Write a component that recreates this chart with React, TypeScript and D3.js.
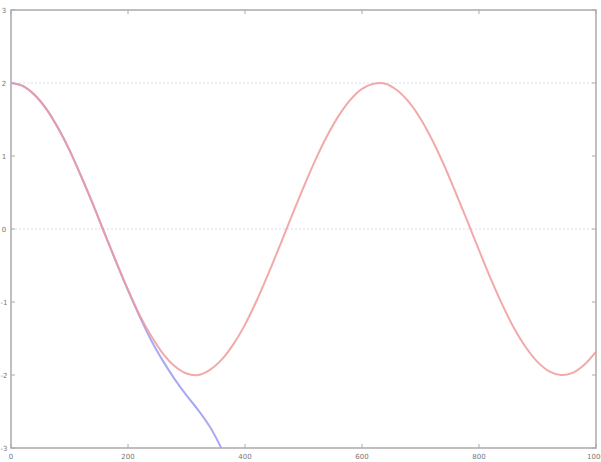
import React from "react";
import * as d3 from "d3";

const xValues = [0,20,40,60,80,100,120,140,160,180,200,220,240,260,280,300,320,340,360,380,400,420,440,460,480,500,520,540,560,580,600,620,640,660,680,700,720,740,760,780,800,820,840,860,880,900,920,940,960,980,1000];
const redValues = [2.00,1.96,1.84,1.65,1.39,1.08,0.72,0.34,-0.06,-0.45,-0.83,-1.18,-1.47,-1.71,-1.88,-1.98,-2.00,-1.93,-1.79,-1.58,-1.31,-0.98,-0.61,-0.22,0.18,0.57,0.94,1.27,1.55,1.77,1.92,1.99,1.99,1.90,1.74,1.51,1.22,0.88,0.50,0.11,-0.29,-0.68,-1.04,-1.36,-1.62,-1.82,-1.95,-2.00,-1.97,-1.86,-1.68];
const blueX = [0,20,40,60,80,100,120,140,160,180,200,220,240,260,280,300,320,340,360];
const blueValues = [2.00,1.96,1.84,1.65,1.39,1.08,0.72,0.34,-0.06,-0.46,-0.84,-1.20,-1.53,-1.81,-2.06,-2.28,-2.48,-2.71,-3.01];
const xTicks = [0,200,400,600,800,1000];
const yTicks = [-3,-2,-1,0,1,2,3];
const gridY = [0,2];

const W = 601, H = 462;
const M = { left: 11, right: 596, top: 10, bottom: 448 };

export default function App() {
  const x = d3.scaleLinear().domain([0, 1000]).range([M.left, M.right]);
  const y = d3.scaleLinear().domain([-3, 3]).range([M.bottom, M.top]);
  const line = d3.line<[number, number]>().x(d => x(d[0])).y(d => y(d[1])).curve(d3.curveCatmullRom);
  const redPts = xValues.map((v, i) => [v, redValues[i]] as [number, number]);
  const bluePts = blueX.map((v, i) => [v, blueValues[i]] as [number, number]);
  const axisColor = "#aaa";
  const textColor = "#777";
  return (
    <svg width={W} height={H} style={{ position: "absolute", left: 0, top: 0, background: "#fff" }}>
      <defs>
        <clipPath id="plot">
          <rect x={M.left} y={M.top} width={M.right - M.left} height={M.bottom - M.top} />
        </clipPath>
      </defs>
      {gridY.map(v => (
        <line key={v} x1={M.left} x2={M.right} y1={y(v)} y2={y(v)} stroke="#dcdcf0" strokeWidth={1} strokeDasharray="2,2" />
      ))}
      <rect x={M.left} y={M.top} width={M.right - M.left} height={M.bottom - M.top} fill="none" stroke={axisColor} strokeWidth={1.5} />
      {xTicks.map(v => (
        <g key={"x" + v}>
          <line x1={x(v)} x2={x(v)} y1={M.bottom} y2={M.bottom - 4} stroke={axisColor} />
          <line x1={x(v)} x2={x(v)} y1={M.top} y2={M.top + 4} stroke={axisColor} />
          <text x={x(v)} y={459} fontSize={7} fill={textColor} textAnchor="middle" fontFamily="DejaVu Sans">{v}</text>
        </g>
      ))}
      {yTicks.map(v => (
        <g key={"y" + v}>
          <line x1={M.left} x2={M.left + 4} y1={y(v)} y2={y(v)} stroke={axisColor} />
          <line x1={M.right} x2={M.right - 4} y1={y(v)} y2={y(v)} stroke={axisColor} />
          <text x={4} y={y(v) + 2.5} fontSize={7} fill={textColor} textAnchor="middle" fontFamily="DejaVu Sans">{v}</text>
        </g>
      ))}
      <g clipPath="url(#plot)">
        <path d={line(bluePts) || ""} fill="none" stroke="#a8a8f4" strokeWidth={2} />
        <path d={line(redPts) || ""} fill="none" stroke="#f09a9a" strokeWidth={2} strokeOpacity={0.85} />
      </g>
    </svg>
  );
}
